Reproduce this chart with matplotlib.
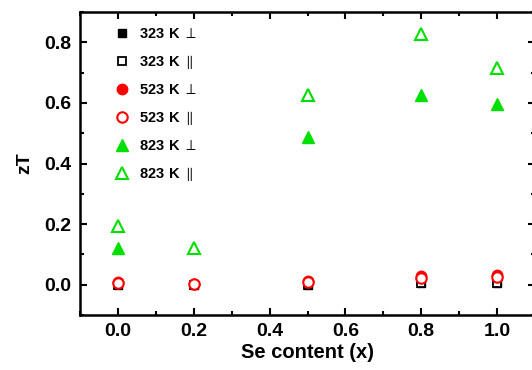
import numpy as np
import matplotlib.pyplot as plt

plt.rcParams['font.family'] = ['Liberation Sans', 'DejaVu Sans']
plt.rcParams['mathtext.fontset'] = 'custom'
plt.rcParams['mathtext.rm'] = 'Liberation Sans'
plt.rcParams['mathtext.bf'] = 'Liberation Sans:bold'
plt.rcParams['mathtext.fallback'] = 'stixsans'

x = [0.0, 0.2, 0.5, 0.8, 1.0]

zt_323_perp = [0.0, 0.0, 0.0, 0.005, 0.005]
zt_323_par = [0.0, 0.0, 0.0, 0.005, 0.005]
zt_523_perp = [0.008, 0.003, 0.011, 0.029, 0.031]
zt_523_par = [0.007, 0.002, 0.009, 0.021, 0.026]
x_823_perp = [0.0, 0.5, 0.8, 1.0]
zt_823_perp = [0.12, 0.487, 0.626, 0.598]
zt_823_par = [0.194, 0.12, 0.625, 0.829, 0.716]

labels = [r"$\mathbf{323\ K}$ ${\perp}$", r"$\mathbf{323\ K}$ ${\parallel}$",
          r"$\mathbf{523\ K}$ ${\perp}$", r"$\mathbf{523\ K}$ ${\parallel}$",
          r"$\mathbf{823\ K}$ ${\perp}$", r"$\mathbf{823\ K}$ ${\parallel}$"]

green = "#00e000"

fig = plt.figure(figsize=(5.32, 3.70), dpi=100)
ax = fig.add_axes([80 / 532, 55 / 370, 455 / 532, 303 / 370])

ax.plot(x, zt_323_perp, "s", color="black", ms=6, ls="none", label=labels[0])
ax.plot(x, zt_323_par, "s", color="black", mfc="white", mew=1.3, ms=6, ls="none", label=labels[1])
ax.plot(x, zt_523_perp, "o", color="red", ms=7.5, ls="none", label=labels[2])
ax.plot(x, zt_523_par, "o", color="red", mfc="white", mew=1.5, ms=7.5, ls="none", label=labels[3])
ax.plot(x_823_perp, zt_823_perp, "^", color=green, ms=9, ls="none", label=labels[4])
ax.plot(x, zt_823_par, "^", color=green, mfc="white", mew=1.5, ms=9, ls="none", label=labels[5])

ax.set_xlim(-0.1, 1.1)
ax.set_ylim(-0.1, 0.9)
ax.set_xticks([0.0, 0.2, 0.4, 0.6, 0.8, 1.0])
ax.set_yticks([0.0, 0.2, 0.4, 0.6, 0.8])
ax.set_xticks(np.arange(-0.1, 1.11, 0.1), minor=True)
ax.set_yticks(np.arange(-0.1, 0.91, 0.1), minor=True)
ax.tick_params(which="both", direction="in", top=True, right=True, width=1.5)
ax.tick_params(which="major", length=5, labelsize=14, pad=6)
ax.tick_params(which="minor", length=3)
for lab in ax.get_xticklabels() + ax.get_yticklabels():
    lab.set_fontweight("bold")
for s in ax.spines.values():
    s.set_linewidth(1.8)

ax.set_xlabel("Se content (x)", fontsize=14.5, fontweight="bold", labelpad=2)
ax.set_ylabel("zT", fontsize=14, fontweight="bold", labelpad=8)

leg = ax.legend(loc="upper left", bbox_to_anchor=(0.044, 0.994), frameon=False,
                fontsize=10.5, labelspacing=0.82, handletextpad=0.6,
                handlelength=1.2)

fig.savefig("out.png", dpi=100)
